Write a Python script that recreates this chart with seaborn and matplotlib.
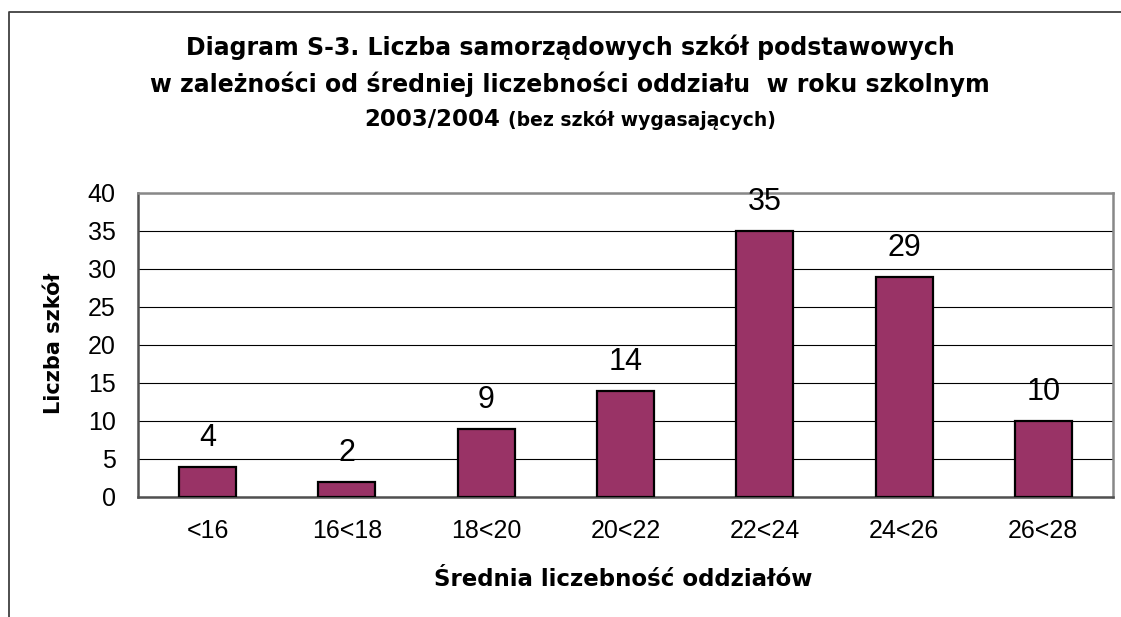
import numpy as np
import pandas as pd
import seaborn as sns
import matplotlib
matplotlib.use("Agg")
import matplotlib.pyplot as plt
from matplotlib.lines import Line2D

# dane
kategorie = ["<16", "16<18", "18<20", "20<22", "22<24", "24<26", "26<28"]
liczba_szkol = [4, 2, 9, 14, 35, 29, 10]
y_ticks = [0, 5, 10, 15, 20, 25, 30, 35, 40]

tytul_1 = "Diagram S-3. Liczba samorządowych szkół podstawowych"
tytul_2 = "w zależności od średniej liczebności oddziału  w roku szkolnym"
tytul_3a = "2003/2004"
tytul_3b = "(bez szkół wygasających)"
os_x = "Średnia liczebność oddziałów"
os_y = "Liczba szkół"

sns.set_style("white")
plt.rcParams['font.family'] = ['Liberation Sans', 'DejaVu Sans']
plt.rcParams['text.color'] = 'black'
plt.rcParams['xtick.labelcolor'] = 'black'
plt.rcParams['ytick.labelcolor'] = 'black'
# pogrubione napisy w oryginale mają rozstrzelone litery - szerszy krój lepiej oddaje ich szerokość
bold = dict(family=['DejaVu Sans'], fontweight="bold")

df = pd.DataFrame({"kategoria": kategorie, "liczba": liczba_szkol})

W, H = 1121, 617
fig = plt.figure(figsize=(W / 100, H / 100), dpi=100)
ax = fig.add_axes([138 / W, 1 - 497 / H, (1113 - 138) / W, (497 - 193) / H])

sns.barplot(data=df, x="kategoria", y="liczba", color="#993366", saturation=1,
            width=0.41, edgecolor="black", linewidth=1.6, ax=ax, zorder=3)

ax.bar_label(ax.containers[0], padding=10, fontsize=22)

ax.set_ylim(0, 40)
ax.set_xlim(-0.5, len(kategorie) - 0.5)
ax.set_yticks(y_ticks)
ax.yaxis.grid(True, color="black", linewidth=0.8, zorder=0)
ax.set_axisbelow(True)

ax.set_xticks(range(len(kategorie)))
ax.set_xticklabels(kategorie)
ax.set_xticks(np.arange(-0.5, len(kategorie)), minor=True)
ax.tick_params(axis="x", which="major", length=0, pad=16, labelsize=18)
ax.tick_params(axis="x", which="minor", length=8, width=1, color="black", direction="out")
ax.tick_params(axis="y", length=7, width=1, color="black", direction="out", pad=9, labelsize=18)
ax.set_xlabel("")
ax.set_ylabel("")

for s in ["top", "right"]:
    ax.spines[s].set_color("#888888")
    ax.spines[s].set_linewidth(1.8)
for s in ["left", "bottom"]:
    ax.spines[s].set_color("#505050")
    ax.spines[s].set_linewidth(1.8)

# ramka wykresu
fig.add_artist(Line2D([9 / W, 9 / W, 1], [0, 1 - 12 / H, 1 - 12 / H],
                      transform=fig.transFigure, color="#404040", linewidth=1.3))

cx = 570 / W
fig.text(cx, 1 - 47 / H, tytul_1, ha="center", va="center", fontsize=17, **bold)
fig.text(cx, 1 - 84 / H, tytul_2, ha="center", va="center", fontsize=17, **bold)

# trzecia linia tytułu: dwa rozmiary czcionki, razem wyśrodkowane
t3a = fig.text(0, 1 - 119 / H, tytul_3a, ha="left", va="center", fontsize=16.5, **bold)
t3b = fig.text(0, 1 - 120 / H, tytul_3b, ha="left", va="center", fontsize=13.5, **bold)
fig.canvas.draw()
r = fig.canvas.get_renderer()
wa = t3a.get_window_extent(r).width
wb = t3b.get_window_extent(r).width
gap = 8
x0 = 570 - (wa + gap + wb) / 2
t3a.set_x(x0 / W)
t3b.set_x((x0 + wa + gap) / W)

fig.text(623 / W, 1 - 580 / H, os_x, ha="center", va="center", fontsize=16.5, **bold)
fig.text(54 / W, 1 - 343 / H, os_y, ha="center", va="center", rotation=90, fontsize=15, **bold)

fig.savefig("out.png", dpi=100)
